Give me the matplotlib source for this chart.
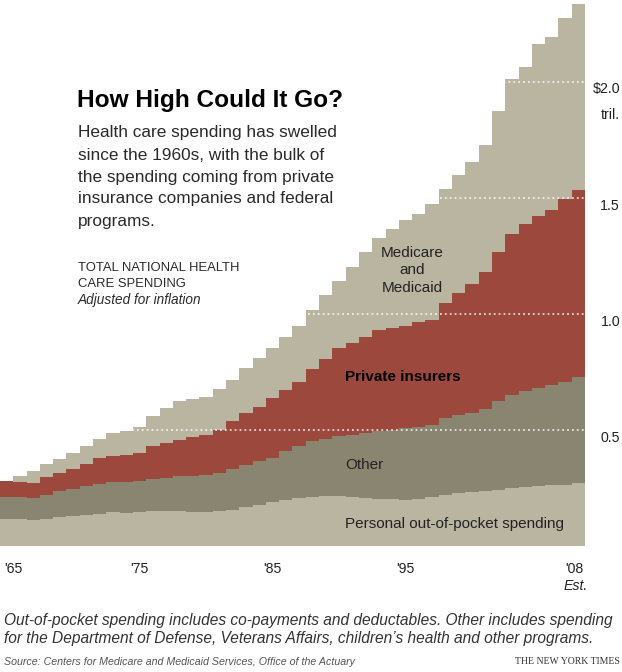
import numpy as np
import matplotlib
matplotlib.use("Agg")
import matplotlib.pyplot as plt
from matplotlib.transforms import blended_transform_factory

# ---- data (trillions of dollars, inflation adjusted) ----
years = list(range(1965, 2009))
out_of_pocket = [0.117, 0.117, 0.111, 0.118, 0.124, 0.128, 0.134, 0.140, 0.145, 0.144,
                 0.145, 0.150, 0.150, 0.150, 0.147, 0.147, 0.150, 0.157, 0.169, 0.178,
                 0.188, 0.200, 0.207, 0.212, 0.214, 0.214, 0.212, 0.208, 0.204, 0.201,
                 0.200, 0.201, 0.210, 0.220, 0.228, 0.231, 0.236, 0.243, 0.249, 0.253,
                 0.257, 0.261, 0.265, 0.272]
other = [0.093, 0.093, 0.096, 0.103, 0.112, 0.118, 0.123, 0.127, 0.131, 0.132,
         0.134, 0.138, 0.143, 0.150, 0.156, 0.159, 0.165, 0.175, 0.181, 0.187,
         0.191, 0.208, 0.222, 0.239, 0.247, 0.261, 0.267, 0.279, 0.290, 0.300,
         0.308, 0.310, 0.312, 0.331, 0.337, 0.343, 0.354, 0.382, 0.404, 0.413,
         0.423, 0.433, 0.444, 0.458]
private_insurers = [0.069, 0.064, 0.065, 0.075, 0.079, 0.086, 0.096, 0.112, 0.113, 0.117,
                    0.121, 0.143, 0.151, 0.158, 0.166, 0.173, 0.186, 0.205, 0.223, 0.236,
                    0.258, 0.265, 0.280, 0.311, 0.343, 0.377, 0.397, 0.412, 0.437, 0.440,
                    0.440, 0.456, 0.452, 0.495, 0.524, 0.554, 0.591, 0.642, 0.692, 0.724,
                    0.744, 0.756, 0.788, 0.804]
medicare_medicaid = [0.000, 0.026, 0.053, 0.057, 0.060, 0.069, 0.076, 0.083, 0.098, 0.101,
                     0.115, 0.130, 0.150, 0.165, 0.164, 0.165, 0.175, 0.179, 0.193, 0.208,
                     0.215, 0.229, 0.239, 0.255, 0.277, 0.290, 0.327, 0.368, 0.398, 0.427,
                     0.456, 0.465, 0.498, 0.494, 0.508, 0.526, 0.549, 0.606, 0.669, 0.676,
                     0.740, 0.744, 0.780, 0.803]
x_tick_years = [1965, 1975, 1985, 1995, 2008]
x_tick_labels = ["'65", "'75", "'85", "'95", "'08"]
y_ticks = [0.5, 1.0, 1.5, 2.0]
y_tick_labels = ["0.5", "1.0", "1.5", "$2.0"]

# ---- style ----
BEIGE = "#b9b5a1"
GRAY = "#8a8571"
RED = "#9c483c"
TXT = "#222222"
W, H = 622, 672
plt.rcParams['font.family'] = ['Liberation Sans', 'DejaVu Sans']

fig = plt.figure(figsize=(W / 100, H / 100), dpi=100)
fig.patch.set_facecolor("white")
base_px = 546
ppu = 232.0
ax = fig.add_axes([0, 1 - base_px / H, 585 / W, base_px / H])
ax.set_xlim(years[0] - 0.5, years[-1] + 0.5)
ax.set_ylim(0, base_px / ppu)
ax.axis("off")

edges = np.arange(years[0] - 0.5, years[-1] + 1.5, 1.0)
layers = [(out_of_pocket, BEIGE), (other, GRAY), (private_insurers, RED), (medicare_medicaid, BEIGE)]
bottom = np.zeros(len(years))
for vals, col in layers:
    top = bottom + np.array(vals)
    ax.stairs(top, edges, baseline=bottom, fill=True, color=col, linewidth=0)
    bottom = top

for v in y_ticks:
    ax.axhline(v, color="white", lw=1.1, ls=(0, (1.2, 2.0)), zorder=5, alpha=0.9)

# y labels at right
bt = blended_transform_factory(ax.transAxes, ax.transData)
xr = 620 / 585
for v, lab in zip(y_ticks, y_tick_labels):
    off = -7 if v == 2.0 else -8
    ax.annotate(lab, xy=(xr, v), xycoords=bt, xytext=(0, off * 0.72), textcoords="offset points",
                ha="right", va="center", fontsize=10.2, color=TXT, annotation_clip=False)
ax.annotate("tril.", xy=(xr, 2.0), xycoords=bt, xytext=(0, -33 * 0.72), textcoords="offset points",
            ha="right", va="center", fontsize=10.2, color=TXT, annotation_clip=False)

# x labels
bx = blended_transform_factory(ax.transData, ax.transAxes)
ylab = -23 / base_px
for yr, lab in zip(x_tick_years, x_tick_labels):
    if yr == years[0]:
        ax.text(yr - 0.2, ylab, lab, transform=bx, ha="left", va="center", fontsize=10.2, color=TXT)
    else:
        ax.text(yr - 0.3 if yr == years[-1] else yr, ylab, lab, transform=bx, ha="center",
                va="center", fontsize=10.2, color=TXT)
ax.text(years[-1] - 0.2, -40 / base_px, "Est.", transform=bx, ha="center", va="center",
        fontsize=10.2, style="italic", color=TXT)


def ftxt(x, y, s, **kw):
    kw.setdefault("va", "center")
    kw.setdefault("color", TXT)
    fig.text(x / W, 1 - y / H, s, **kw)


ftxt(77, 101, "How High Could It Go?", fontsize=17.6, fontweight="bold", color="black")
body = ["Health care spending has swelled",
        "since the 1960s, with the bulk of",
        "the spending coming from private",
        "insurance companies and federal",
        "programs."]
for k, line in enumerate(body):
    ftxt(78, 133 + 22 * k, line, fontsize=12.4, color="#2a2a2a")
ftxt(78, 268, "TOTAL NATIONAL HEALTH", fontsize=9.4, color="#2a2a2a")
ftxt(78, 284, "CARE SPENDING", fontsize=9.4, color="#2a2a2a")
ftxt(78, 300, "Adjusted for inflation", fontsize=9.8, style="italic", color="#2a2a2a")

# layer labels
ftxt(412, 253, "Medicare", fontsize=11, ha="center")
ftxt(412, 270.5, "and", fontsize=11, ha="center")
ftxt(412, 288, "Medicaid", fontsize=11, ha="center")
ftxt(403, 377, "Private insurers", fontsize=11, ha="center", fontweight="bold", color="black")
ftxt(345, 465, "Other", fontsize=11)
ftxt(345, 524, "Personal out-of-pocket spending", fontsize=11)

# footnotes
ftxt(4, 620, "Out-of-pocket spending includes co-payments and deductables. Other includes spending",
     fontsize=11.2, style="italic", color="#333333")
ftxt(4, 639, "for the Department of Defense, Veterans Affairs, children\u2019s health and other programs.",
     fontsize=11.2, style="italic", color="#333333")
ftxt(4, 662, "Source: Centers for Medicare and Medicaid Services, Office of the Actuary",
     fontsize=7.7, style="italic", color="#555555")
ftxt(620, 662, "THE NEW YORK TIMES", fontsize=7.0, ha="right", family="Liberation Serif",
     color="#333333")

fig.savefig("out.png", dpi=100, facecolor="white")
